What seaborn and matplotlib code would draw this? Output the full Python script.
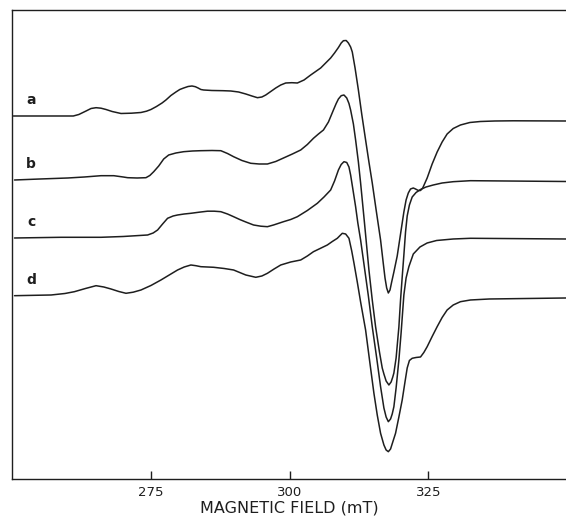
import pandas as pd
import matplotlib
matplotlib.use("Agg")
import matplotlib.pyplot as plt
import seaborn as sns

# field (mT) and derivative signal (arb. units, relative to each trace's baseline)
field_a = [250.2, 261.0, 262.0, 263.3, 264.2, 265.1, 266.0, 266.9, 268.0, 269.6,
           271.5, 273.2, 274.2, 275.0, 276.0, 277.0, 277.7, 278.6, 279.5, 280.2,
           280.9, 281.7, 282.4, 283.0, 283.5, 284.0, 284.5, 286.0, 288.0, 289.4,
           290.8, 292.1, 293.2, 294.2, 295.0, 295.7, 296.6, 297.5, 298.4, 299.3,
           300.4, 301.4, 302.6, 303.8, 304.7, 305.6, 306.5, 307.4, 308.1, 308.8,
           309.3, 309.7, 310.2, 310.6, 311.0, 311.3, 311.8, 312.4, 313.0, 313.7,
           314.3, 314.9, 315.6, 316.4, 316.9, 317.2, 317.5, 317.8, 318.1, 318.4,
           318.8, 319.4, 320.0, 320.6, 321.0, 321.4, 321.8, 322.3, 322.7, 323.2,
           323.6, 324.0, 324.8, 325.7, 326.6, 327.5, 328.4, 329.5, 330.8, 332.5,
           334.4, 337.0, 340.3, 349.8]
signal_a = [0, 0, 1.5, 5, 7.5, 8.3, 7.8, 6.5, 4.5, 2.5,
            2.8, 3.5, 4.8, 6.5, 9.5, 13, 16, 20.5, 24, 26.5,
            28, 29.5, 30, 29.3, 28, 26.5, 26, 25.5, 25.3, 25,
            24, 22, 20, 18.3, 19, 21, 24.5, 28, 31, 33,
            33.3, 33, 36, 41, 44.5, 48, 53, 58, 63, 68.5,
            73, 75.3, 75.5, 73, 69, 64, 48, 26, 2, -24,
            -46, -67, -94, -124, -148, -162, -172, -177, -174, -166,
            -156, -140, -118, -96, -84, -77, -73, -72, -73, -74.5,
            -74.5, -72, -62, -48, -36, -26, -18, -12.5, -9, -6.5,
            -5.5, -5, -4.8, -5]

field_b = [250.4, 255.0, 260.0, 263.0, 266.0, 268.3, 270.0, 270.8, 272.5, 274.1,
           274.8, 275.5, 276.4, 277.3, 278.2, 279.5, 280.9, 282.5, 284.0, 286.0,
           287.6, 288.8, 289.9, 291.4, 293.0, 294.5, 296.0, 297.5, 298.9, 300.5,
           302.0, 303.2, 304.3, 305.2, 306.1, 307.0, 307.9, 308.4, 308.8, 309.3,
           309.8, 310.3, 310.7, 311.0, 311.5, 311.9, 312.4, 312.8, 313.5, 314.3,
           314.9, 315.5, 316.2, 316.7, 317.0, 317.4, 317.9, 318.3, 318.6, 318.8,
           319.2, 319.7, 320.0, 320.3, 320.6, 320.9, 321.2, 321.6, 322.1, 322.8,
           323.6, 324.6, 325.9, 327.5, 329.5, 332.6, 349.8]
signal_b = [0, 1, 2, 3, 4.3, 4.3, 3, 2.3, 2, 2.3,
            4.5, 8.3, 14, 21, 25, 27, 28.3, 29, 29.3, 29.5,
            29.3, 26.5, 23.3, 19.5, 16.7, 16, 16, 18.5, 22, 26,
            30, 35.5, 41.7, 46, 50, 58, 70, 76.5, 81, 84.3,
            85, 82, 76.5, 70, 56, 40, 18, -3, -43, -90,
            -120, -146.7, -172, -188, -194, -201, -205, -202, -197, -193,
            -178, -147, -120, -97, -75, -52, -36, -25, -17, -12.5,
            -9.5, -7, -5, -3, -1.7, -0.7, -1.5]

field_c = [250.4, 258.8, 266.0, 270.0, 274.4, 275.4, 276.2, 277.1, 278.0, 279.0,
           279.8, 281.0, 282.2, 283.7, 285.2, 286.4, 287.6, 288.8, 289.9, 291.0,
           292.1, 293.5, 294.8, 296.0, 297.1, 298.9, 300.2, 301.4, 303.2, 305.0,
           306.2, 307.4, 308.1, 308.8, 309.3, 309.8, 310.3, 310.7, 311.0, 311.4,
           311.9, 312.3, 312.8, 313.4, 314.2, 314.9, 315.7, 316.4, 317.0, 317.4,
           317.8, 318.2, 318.5, 318.8, 319.2, 319.7, 320.1, 320.6, 321.0, 321.5,
           322.3, 323.5, 324.8, 326.5, 329.5, 332.6, 349.8]
signal_c = [0, 0.7, 0.7, 1.5, 3, 5, 8, 14, 19.7, 22,
            23, 24, 24.7, 25.8, 26.8, 26.8, 26.3, 24, 21.3, 18.5,
            16, 13, 11.8, 11.3, 13, 16.3, 18.5, 21.3, 27.5, 34.7,
            41, 48, 57, 68, 73.5, 76.3, 75.5, 71, 63, 49,
            31.3, 15, -2, -26, -58, -88.7, -120, -148.7, -170, -179,
            -183.7, -181, -176, -168.7, -150, -122, -95, -57, -40, -28.7,
            -16, -9, -5, -2.5, -1, -0.3, -1]

field_d = [250.4, 257.0, 259.5, 261.2, 263.2, 265.1, 266.5, 267.8, 269.2, 270.5,
           271.8, 273.2, 275.0, 276.8, 278.3, 279.8, 281.0, 282.2, 283.1, 284.0,
           286.3, 288.2, 289.9, 291.0, 292.1, 293.9, 295.0, 296.0, 297.2, 298.4,
           300.2, 302.0, 303.2, 304.3, 305.5, 306.8, 307.7, 308.6, 309.1, 309.5,
           310.1, 310.7, 311.2, 311.6, 312.2, 312.8, 313.7, 314.5, 315.2, 315.8,
           316.4, 317.0, 317.4, 317.8, 318.2, 318.6, 319.1, 319.7, 320.3, 320.8,
           321.2, 321.6, 322.1, 322.8, 323.6, 324.2, 324.8, 325.7, 326.6, 327.5,
           328.4, 329.5, 330.8, 332.6, 336.0, 349.8]
signal_d = [0.3, 1, 2.5, 4.3, 7.5, 10.3, 9, 7, 4.5, 2.7,
            3.8, 6, 10.5, 16, 21, 26, 29, 31, 30.3, 29.3,
            28.7, 27.5, 26, 23.5, 21, 18.7, 20, 22.7, 27, 31,
            34, 36, 40, 44.3, 47.5, 51, 54.5, 57.7, 60.5, 62.7,
            62, 57.7, 45, 33, 14, -6, -34, -68, -97.3, -119,
            -137.3, -149, -154, -155.7, -153, -146, -137.3, -121, -104, -86,
            -72, -64.5, -62.3, -61.5, -61, -56.5, -50.7, -40.5, -30.7, -21.5,
            -14, -9, -5.7, -4, -3, -2]

trace_names = ["a", "b", "c", "d"]
trace_offsets = [0, -64, -122, -180]
tick_values = [275, 300, 325]

fields = [field_a, field_b, field_c, field_d]
signals = [signal_a, signal_b, signal_c, signal_d]

frames = []
for name, off, fx, sy in zip(trace_names, trace_offsets, fields, signals):
    frames.append(pd.DataFrame({"field": fx,
                                "signal": [v + off for v in sy],
                                "trace": name}))
spectra = pd.concat(frames, ignore_index=True)

sns.set_theme(style="white")
plt.rcParams["font.family"] = ["DejaVu Sans"]

fig = plt.figure(figsize=(5.66, 5.18), dpi=100)
ax = fig.add_axes([0.0217, 0.0759, 0.978, 0.9048])

sns.lineplot(data=spectra, x="field", y="signal", hue="trace",
             palette=["#1e1e1e"] * 4, estimator=None, sort=False,
             linewidth=1.1, legend=False, ax=ax)

# trace letters at the left
for name, off in zip(trace_names, trace_offsets):
    ax.text(253.4, off + 16, name, fontsize=10, fontweight="bold",
            color="#1e1e1e", ha="center", va="center")

ax.set_xlim(250, 349.8)
ax.set_ylim(-362.7, 106)
ax.set_xticks(tick_values)
ax.set_xticklabels([str(t) for t in tick_values], fontsize=9.5)
ax.set_yticks([])
ax.tick_params(axis="x", direction="in", length=6, width=1, pad=5,
               colors="#1e1e1e", bottom=True)
ax.set_xlabel("MAGNETIC FIELD (mT)", fontsize=11.5, labelpad=1, color="#1e1e1e")
ax.set_ylabel("")

for side in ["left", "top", "bottom"]:
    ax.spines[side].set_color("#1e1e1e")
    ax.spines[side].set_linewidth(1.0)
ax.spines["right"].set_visible(False)

fig.savefig("out.png", dpi=100)
